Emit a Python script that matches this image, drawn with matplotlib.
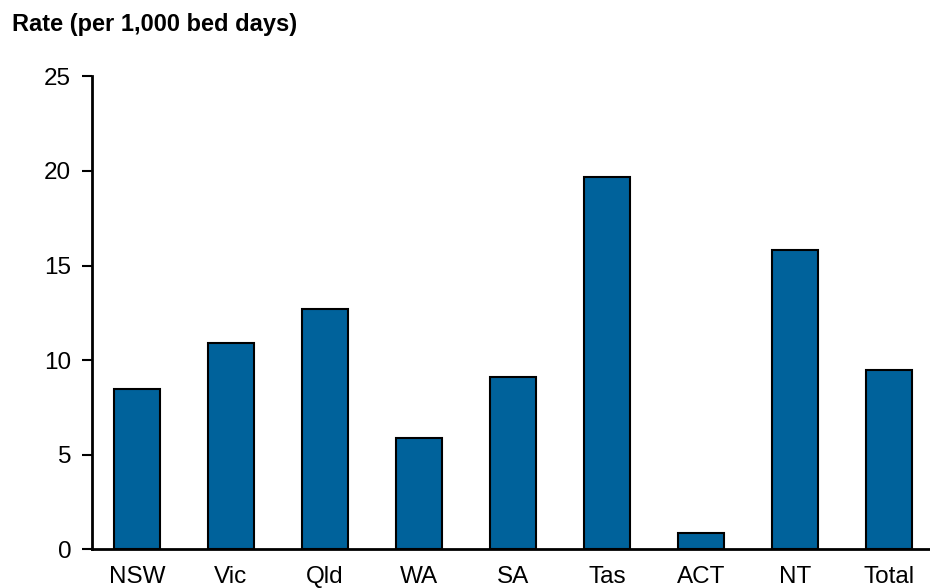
import matplotlib
matplotlib.use("Agg")
from matplotlib import pyplot as plt

states = ["NSW", "Vic", "Qld", "WA", "SA", "Tas", "ACT", "NT", "Total"]
rates = [8.45, 10.9, 12.7, 5.9, 9.1, 19.7, 0.85, 15.8, 9.5]
y_ticks = [0, 5, 10, 15, 20, 25]

plt.rcParams["font.family"] = ["Liberation Sans", "DejaVu Sans"]

fig = plt.figure(figsize=(9.3, 5.88), dpi=100)
ax = fig.add_axes([0.099, 0.066, 0.901, 0.804])

ax.bar(range(len(states)), rates, width=0.49, color="#00629b",
       edgecolor="black", linewidth=1.5, zorder=2)

ax.set_xlim(-0.478, 8.437)
ax.set_ylim(0, 25)
ax.set_yticks(y_ticks)
ax.set_xticks(range(len(states)))
ax.set_xticklabels(states)

for side in ["top", "right"]:
    ax.spines[side].set_visible(False)
for side in ["left", "bottom"]:
    ax.spines[side].set_linewidth(2)

ax.tick_params(axis="y", length=7, width=1.5, pad=8, labelsize=17.5)
ax.tick_params(axis="x", length=0, pad=12, labelsize=17.5)

fig.text(0.013, 0.958, "Rate (per 1,000 bed days)", fontsize=17,
         fontweight="bold", va="center", ha="left")

fig.savefig("out.png", dpi=100)
plt.close()
